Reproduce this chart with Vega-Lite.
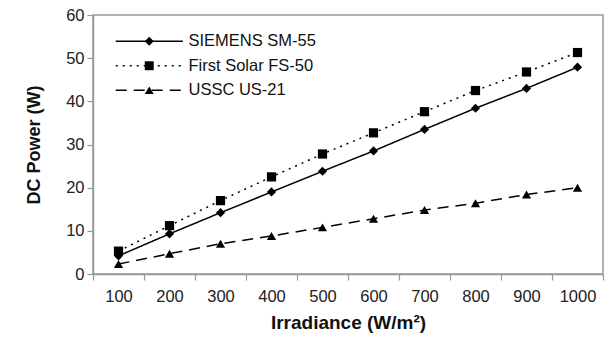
{
  "$schema": "https://vega.github.io/schema/vega-lite/v6.json",
  "width": 510,
  "height": 259,
  "autosize": "none",
  "padding": {"left": 93, "top": 15, "right": 6, "bottom": 63},
  "background": "white",
  "config": {
    "font": "Liberation Sans",
    "view": {"stroke": "#999", "strokeWidth": 1.5},
    "axis": {
      "domainColor": "#999", "domainWidth": 1.5, "tickColor": "#999", "tickWidth": 1.2,
      "labelFont": "Liberation Sans", "labelFontSize": 16.5, "labelColor": "#222",
      "titleFont": "Liberation Sans", "titleFontWeight": "bold", "titleColor": "#111",
      "grid": false, "tickSize": 6
    }
  },
  "data": {
    "values": [
      {"irradiance": 100, "series": "SIEMENS SM-55", "power": 4.2},
      {"irradiance": 200, "series": "SIEMENS SM-55", "power": 9.3},
      {"irradiance": 300, "series": "SIEMENS SM-55", "power": 14.2},
      {"irradiance": 400, "series": "SIEMENS SM-55", "power": 19.0},
      {"irradiance": 500, "series": "SIEMENS SM-55", "power": 23.8},
      {"irradiance": 600, "series": "SIEMENS SM-55", "power": 28.5},
      {"irradiance": 700, "series": "SIEMENS SM-55", "power": 33.5},
      {"irradiance": 800, "series": "SIEMENS SM-55", "power": 38.4},
      {"irradiance": 900, "series": "SIEMENS SM-55", "power": 43.0},
      {"irradiance": 1000, "series": "SIEMENS SM-55", "power": 47.9},
      {"irradiance": 100, "series": "First Solar FS-50", "power": 5.3},
      {"irradiance": 200, "series": "First Solar FS-50", "power": 11.2},
      {"irradiance": 300, "series": "First Solar FS-50", "power": 17.0},
      {"irradiance": 400, "series": "First Solar FS-50", "power": 22.5},
      {"irradiance": 500, "series": "First Solar FS-50", "power": 27.8},
      {"irradiance": 600, "series": "First Solar FS-50", "power": 32.7},
      {"irradiance": 700, "series": "First Solar FS-50", "power": 37.6},
      {"irradiance": 800, "series": "First Solar FS-50", "power": 42.5},
      {"irradiance": 900, "series": "First Solar FS-50", "power": 46.8},
      {"irradiance": 1000, "series": "First Solar FS-50", "power": 51.3},
      {"irradiance": 100, "series": "USSC US-21", "power": 2.3},
      {"irradiance": 200, "series": "USSC US-21", "power": 4.7},
      {"irradiance": 300, "series": "USSC US-21", "power": 7.0},
      {"irradiance": 400, "series": "USSC US-21", "power": 8.8},
      {"irradiance": 500, "series": "USSC US-21", "power": 10.8},
      {"irradiance": 600, "series": "USSC US-21", "power": 12.8},
      {"irradiance": 700, "series": "USSC US-21", "power": 14.8},
      {"irradiance": 800, "series": "USSC US-21", "power": 16.4},
      {"irradiance": 900, "series": "USSC US-21", "power": 18.4},
      {"irradiance": 1000, "series": "USSC US-21", "power": 20.0}
    ]
  },
  "encoding": {
    "x": {
      "field": "irradiance", "type": "ordinal",
      "scale": {"paddingInner": 0, "paddingOuter": 0},
      "axis": {"title": "Irradiance (W/m²)", "titleFontSize": 19, "labelAngle": 0, "tickBand": "extent", "labelPadding": 8, "titlePadding": 9}
    },
    "y": {
      "field": "power", "type": "quantitative",
      "scale": {"domain": [0, 60], "nice": false},
      "axis": {"title": "DC Power (W)", "titleFontSize": 18, "values": [0, 10, 20, 30, 40, 50, 60], "labelPadding": 3, "titlePadding": 22}
    }
  },
  "layer": [
    {
      "mark": {"type": "line", "color": "#000", "strokeWidth": 1.5},
      "encoding": {
        "strokeDash": {
          "field": "series", "type": "nominal",
          "scale": {"domain": ["SIEMENS SM-55", "First Solar FS-50", "USSC US-21"], "range": [[1, 0], [2, 5], [11, 7]]},
          "legend": {
            "title": null, "orient": "none", "legendX": 48, "legendY": 18, "padding": 0,
            "symbolType": "M-7.5,0H7.5", "symbolSize": 80, "symbolStrokeColor": "#000", "symbolFillColor": "transparent",
            "symbolStrokeWidth": 1.5, "labelOffset": 31, "labelFontSize": 16.5, "labelColor": "#111",
            "labelFont": "Liberation Sans", "rowPadding": 7.5
          }
        }
      }
    },
    {
      "mark": {"type": "point", "filled": true, "color": "#000", "size": 85, "opacity": 1},
      "encoding": {
        "shape": {
          "field": "series", "type": "nominal",
          "sort": ["SIEMENS SM-55", "First Solar FS-50", "USSC US-21"],
          "scale": {"range": ["diamond", "square", "triangle-up"]},
          "legend": {
            "title": null, "orient": "none", "legendX": 48, "legendY": 18, "padding": 0,
            "symbolSize": 80, "symbolFillColor": "#000", "symbolStrokeColor": "#000", "symbolStrokeWidth": 0,
            "symbolOpacity": 1, "labelOffset": 31, "labelFontSize": 16.5, "labelOpacity": 0, "rowPadding": 7.5
          }
        }
      }
    }
  ]
}
